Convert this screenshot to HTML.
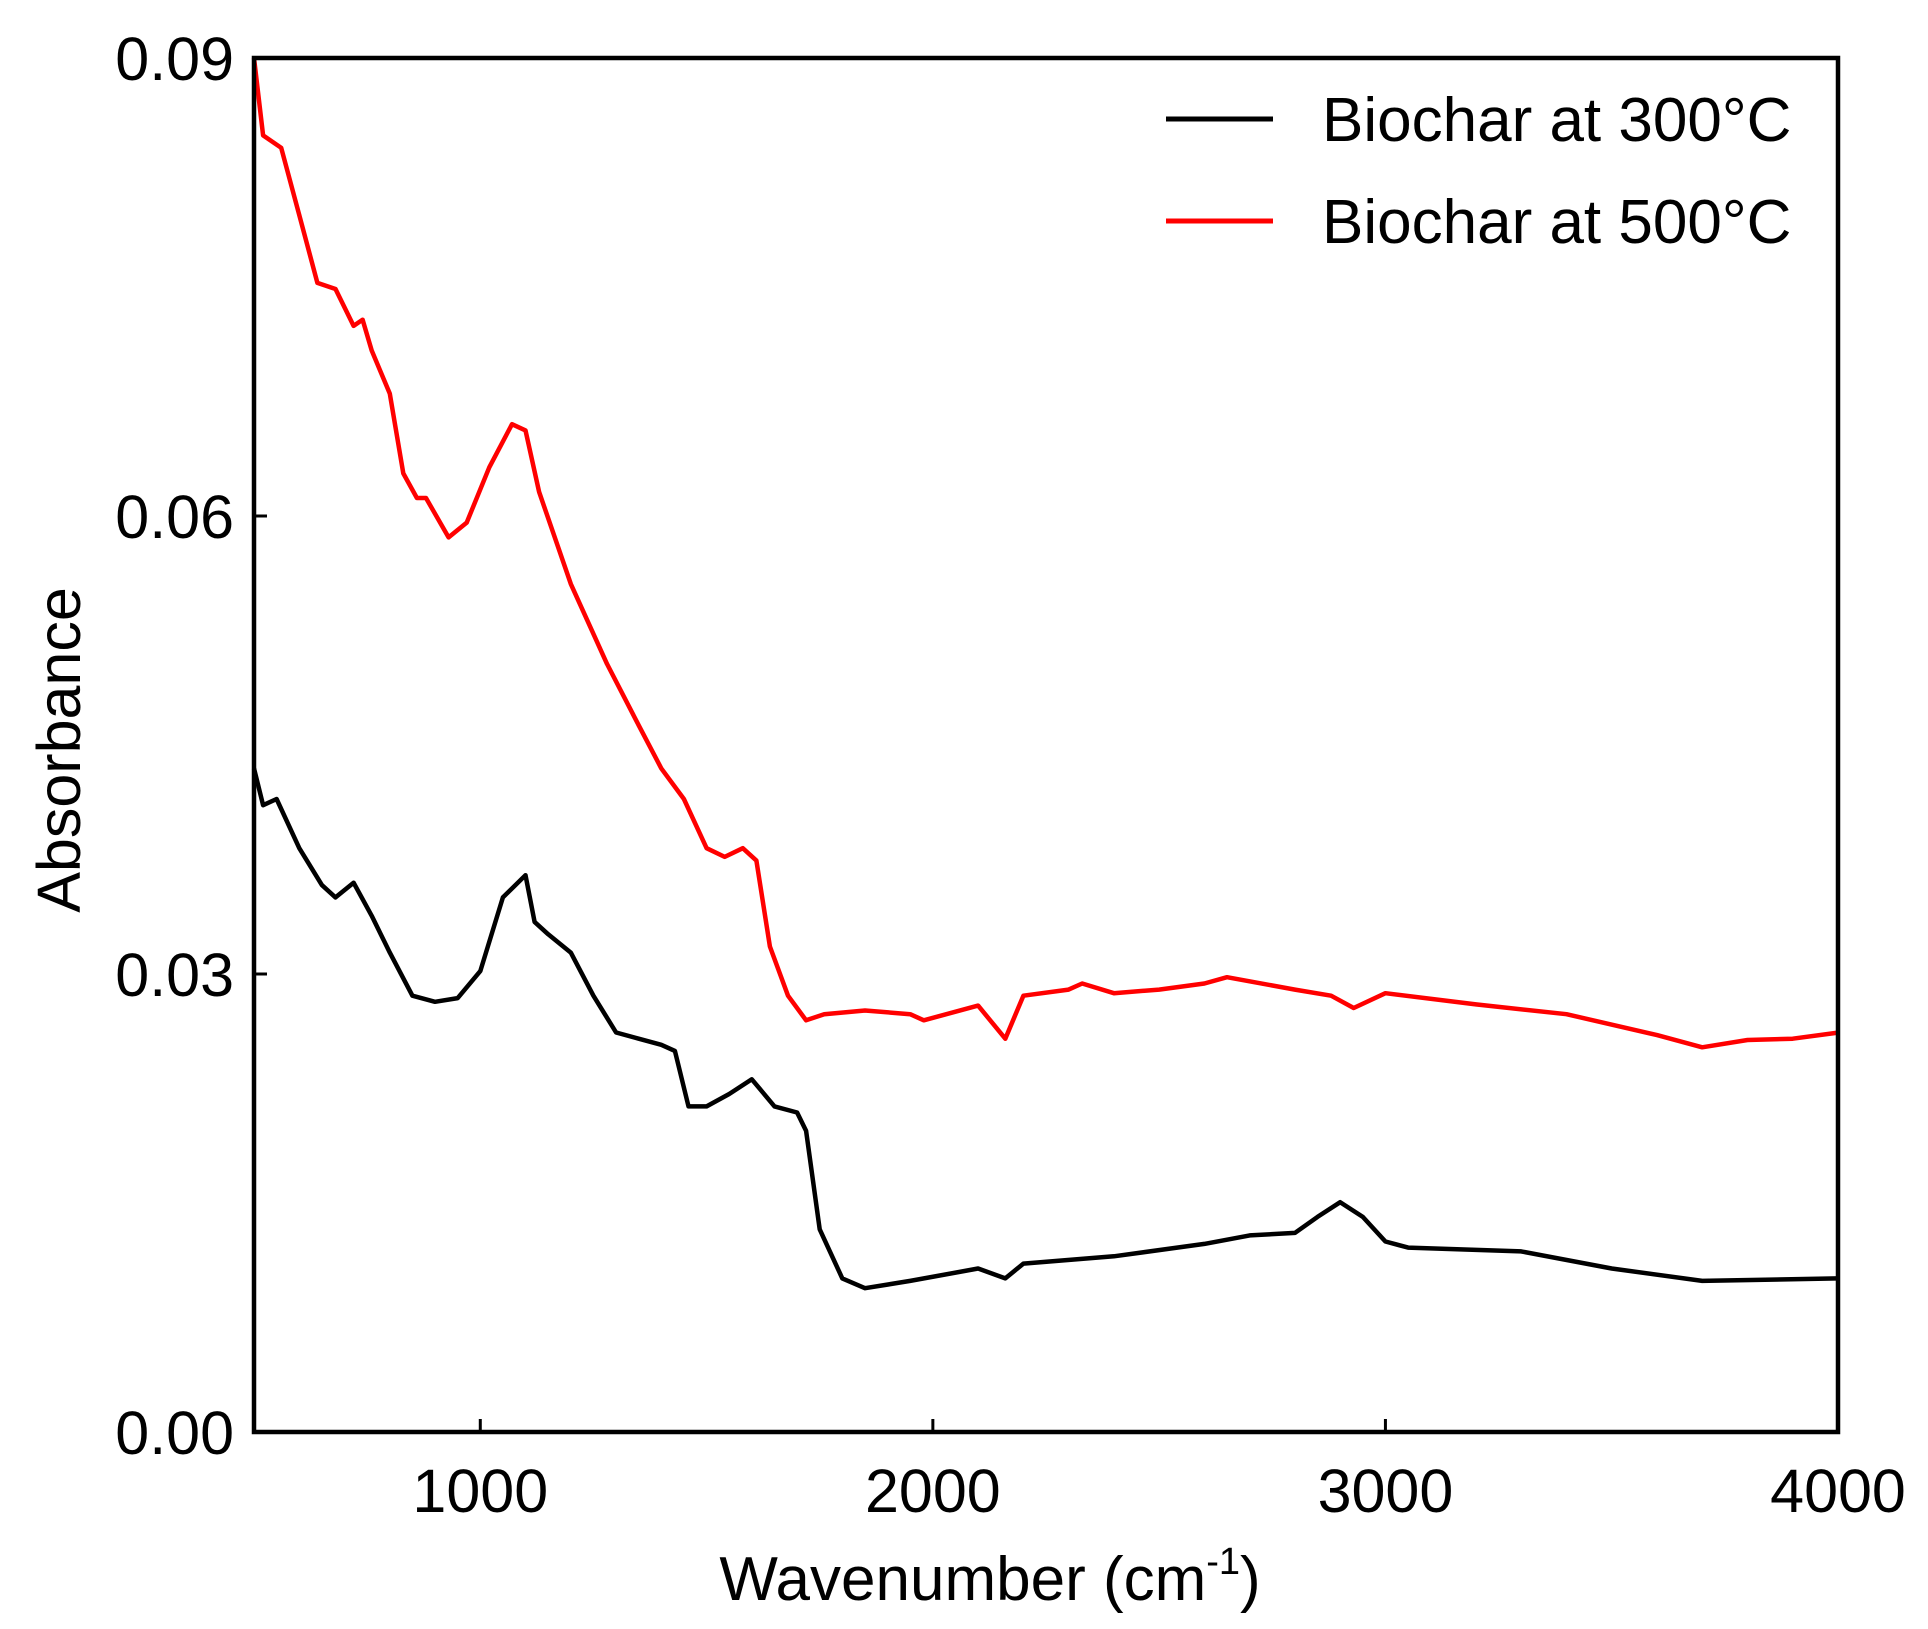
<!DOCTYPE html>
<html><head><meta charset="utf-8"><style>
html,body{margin:0;padding:0;background:#fff;}
svg{display:block;font-family:"Liberation Sans",Arial,sans-serif;}
</style></head><body>
<svg id="chart" width="1928" height="1629" viewBox="0 0 1928 1629" xmlns="http://www.w3.org/2000/svg">
<g id="plot"></g>
</svg>
<script>
const xTicks = [1000, 2000, 3000, 4000];
const xTickLabels = ["1000", "2000", "3000", "4000"];
const yTicks = [0, 0.03, 0.06, 0.09];
const yTickLabels = ["0.00", "0.03", "0.06", "0.09"];
const redX = [500,520,560,600,640,680,720,740,760,800,830,860,880,930,970,1020,1070,1100,1130,1200,1280,1350,1400,1450,1500,1540,1580,1610,1640,1680,1720,1760,1850,1950,1980,2100,2160,2200,2300,2330,2400,2500,2600,2650,2800,2880,2930,3000,3200,3400,3600,3700,3800,3900,4000];
const redY = [0.09,0.08493,0.08412,0.0797,0.07527,0.07487,0.07245,0.07286,0.07084,0.06802,0.06279,0.06118,0.06118,0.0586,0.05957,0.06319,0.06601,0.06561,0.06158,0.05555,0.05031,0.04629,0.04347,0.04146,0.03824,0.03767,0.03824,0.03743,0.0318,0.02858,0.02697,0.02737,0.02761,0.02737,0.02697,0.02793,0.02576,0.02858,0.02898,0.02938,0.02874,0.02898,0.02938,0.02979,0.02898,0.02858,0.02777,0.02874,0.02801,0.02737,0.026,0.0252,0.02568,0.02576,0.02616];
const blackX = [500,520,550,600,650,680,720,760,800,850,900,950,1000,1050,1100,1120,1150,1200,1250,1300,1350,1400,1430,1460,1500,1550,1600,1650,1700,1720,1750,1800,1850,1950,2100,2160,2200,2400,2600,2700,2800,2850,2900,2950,3000,3050,3300,3500,3700,4000];
const blackY = [0.04347,0.04106,0.04146,0.03824,0.03582,0.03502,0.03598,0.03381,0.0314,0.02858,0.02818,0.02842,0.03019,0.03502,0.03647,0.03341,0.0326,0.0314,0.02858,0.02617,0.02576,0.02536,0.02496,0.02133,0.02133,0.02214,0.0231,0.02133,0.02093,0.01972,0.01328,0.01006,0.00942,0.0099,0.01071,0.01006,0.01103,0.01151,0.01232,0.01288,0.01304,0.01409,0.01505,0.01409,0.01248,0.01208,0.01183,0.01071,0.0099,0.01006];

const L=254,R=1838,T=58,B=1432;
const xMin=500,xMax=4000,yMin=0,yMax=0.09;
function sx(v){return L+(v-xMin)/(xMax-xMin)*(R-L);}
function sy(v){return B-(v-yMin)/(yMax-yMin)*(B-T);}
const NS="http://www.w3.org/2000/svg";
const g=document.getElementById('plot');
function mk(tag,attrs,parent){const e=document.createElementNS(NS,tag);for(const k in attrs)e.setAttribute(k,attrs[k]);(parent||g).appendChild(e);return e;}

function series(xs,ys,color,name){
  const d=xs.map((x,i)=>(i?'L':'M')+sx(x).toFixed(1)+','+sy(ys[i]).toFixed(1)).join(' ');
  const p=mk('path',{d:d,fill:'none',stroke:color,'stroke-width':4.5,'stroke-linejoin':'round'});
  
  
}
series(blackX,blackY,'#000','series-biochar-300');
series(redX,redY,'#f00','series-biochar-500');

const frame=mk('rect',{x:L,y:T,width:R-L,height:B-T,fill:'none',stroke:'#000','stroke-width':4.5});



xTicks.forEach((v,i)=>{
  const t=mk('line',{x1:sx(v),x2:sx(v),y1:B,y2:B-13,stroke:'#000','stroke-width':3});
  
  
  const tx=mk('text',{x:sx(v),y:1512,'text-anchor':'middle','font-size':61,fill:'#000'});
  tx.textContent=xTickLabels[i];
  
  
});
yTicks.forEach((v,i)=>{
  const t=mk('line',{x1:L,x2:L+13,y1:sy(v),y2:sy(v),stroke:'#000','stroke-width':3});
  
  
  const tx=mk('text',{x:234,y:sy(v)+22,'text-anchor':'end','font-size':61,fill:'#000'});
  tx.textContent=yTickLabels[i];
  
  
});
</script>
<div style="position:absolute;left:0;top:0;width:1928px;height:1629px;pointer-events:none">
<svg width="1928" height="1629" style="font-family:'Liberation Sans',Arial,sans-serif">
<text x="990" y="1600" text-anchor="middle" font-size="62">Wavenumber (cm<tspan font-size="38" dy="-26">-1</tspan><tspan dy="26">)</tspan></text>
<text transform="translate(80,750) rotate(-90)" text-anchor="middle" font-size="61">Absorbance</text>
<g>
<line x1="1166" x2="1273" y1="119" y2="119" stroke="#000" stroke-width="5"/>
<text x="1322" y="141" font-size="62">Biochar at 300°C</text>
<line x1="1166" x2="1273" y1="221" y2="221" stroke="#f00" stroke-width="5"/>
<text x="1322" y="243" font-size="62">Biochar at 500°C</text>
</g>
</svg>
</div>
</body></html>
